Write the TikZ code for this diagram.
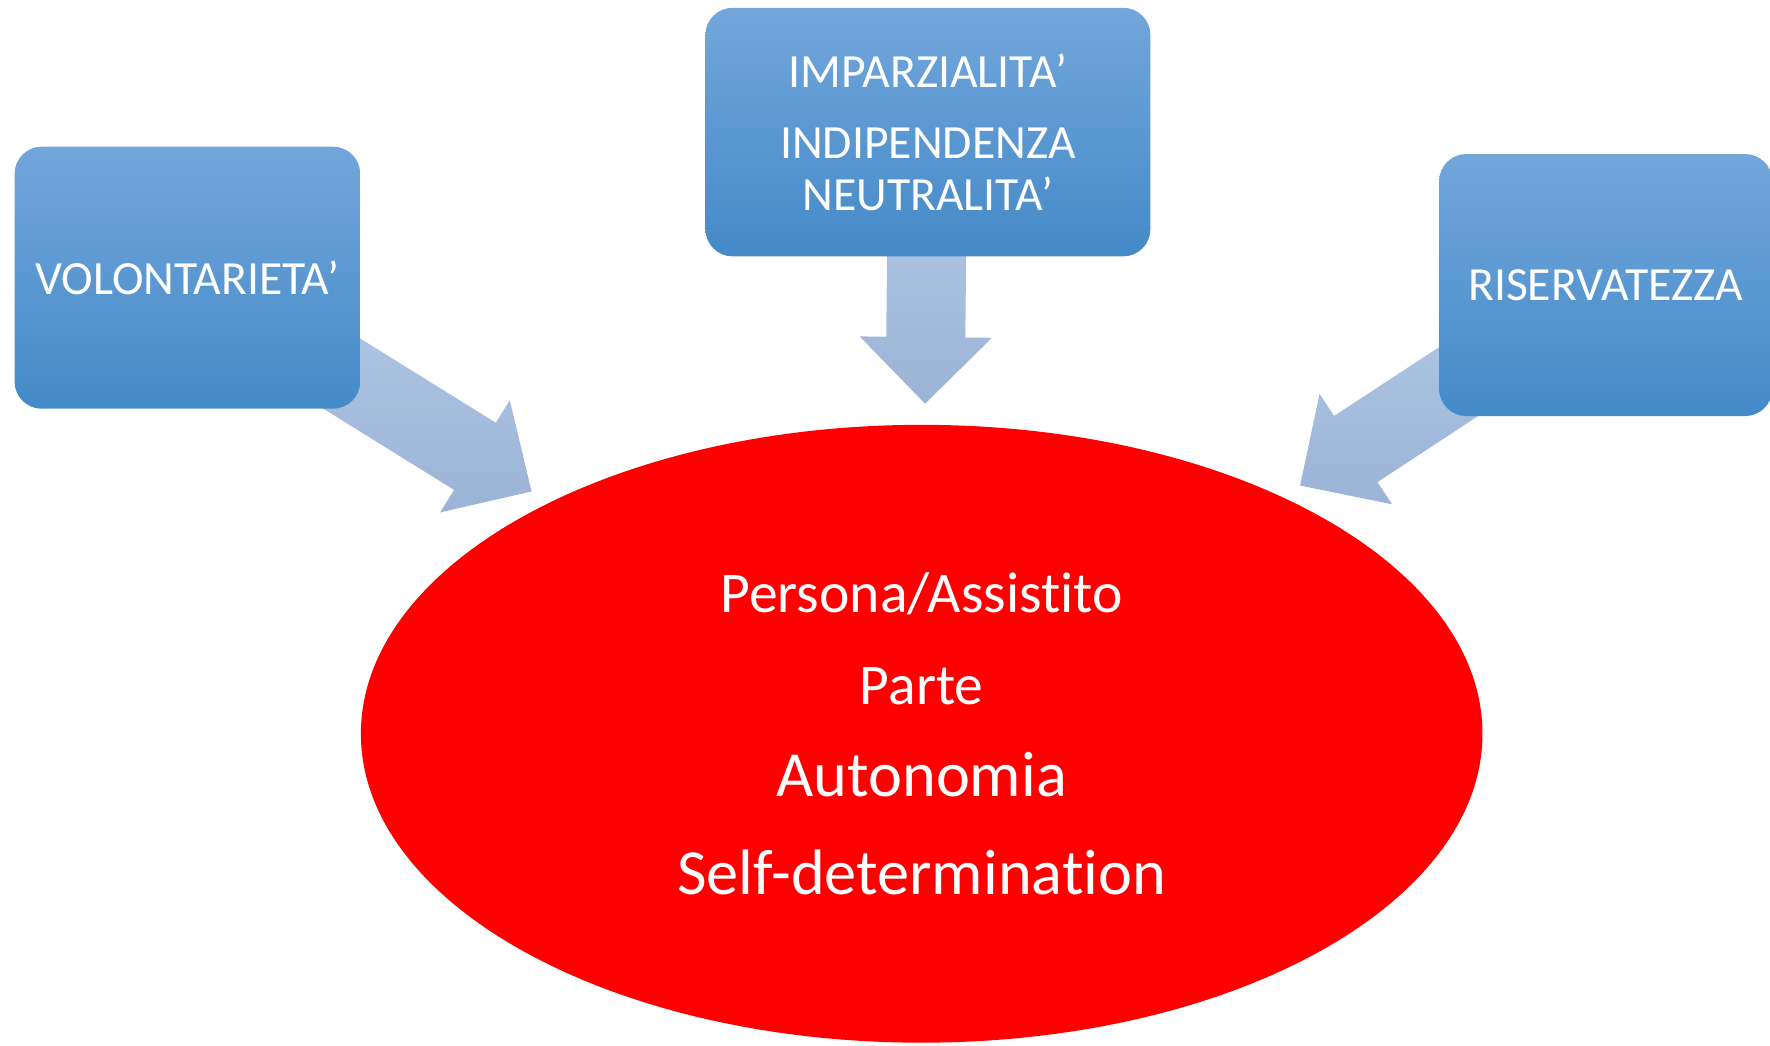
\documentclass[tikz,border=0pt]{standalone}
\usepackage{fontspec}
\setmainfont{Carlito}[Ligatures=NoCommon]
\usetikzlibrary{calc}
\usetikzlibrary{shapes.geometric, backgrounds}

\definecolor{boxtop}{RGB}{114,166,219}
\definecolor{boxbot}{RGB}{68,138,200}
\definecolor{arrowtop}{RGB}{181,204,235}
\definecolor{arrowbot}{RGB}{155,179,213}

\tikzset{
  valuebox/.style={rectangle, rounded corners=0.24cm, top color=boxtop, bottom color=boxbot,
    text=white, align=center, inner sep=0pt, font=\fontsize{12}{13}\selectfont},
  core/.style={ellipse, fill=red, text=white, align=center, inner sep=0pt,
    minimum width=9.93cm, minimum height=5.47cm, font=\fontsize{16.2}{23.2}\selectfont},
  arrowshade/.style={top color=arrowtop, bottom color=arrowbot}
}

% block arrow from the centre of a box towards the ellipse
\newcommand{\blockarrow}[2]{%
  \path (#1.center) -- (#2) coordinate[pos=1] (#1-end);
  \coordinate (#1-tip) at ($(#1-end)!0.18cm!(#1.center)$);
  \coordinate (#1-neck) at ($(#1-tip)!0.59cm!(#1.center)$);
  \shade[arrowshade] ($(#1.center)!0.35cm!90:(#1-tip)$)
    -- ($(#1-neck)!0.35cm!90:(#1-tip)$)
    -- ($(#1-neck)!0.585cm!90:(#1-tip)$)
    -- (#1-tip)
    -- ($(#1-neck)!0.585cm!-90:(#1-tip)$)
    -- ($(#1-neck)!0.35cm!-90:(#1-tip)$)
    -- ($(#1.center)!0.35cm!-90:(#1-tip)$) -- cycle;
}

\begin{document}
\begin{tikzpicture}[x=0.01cm, y=-0.01cm]
        \useasboundingbox (0,0) rectangle (1568,926);

        % Central ellipse
        \node[core] (client) at (816.5,650) {%
            {\fontsize{14.5}{23.2}\selectfont Persona/Assistito}\\
            {\fontsize{14.5}{23.2}\selectfont Parte}\\
            Autonomia\\[1.5pt]
            Self-determination};

        % Principles
        \node[valuebox, minimum width=3.06cm, minimum height=2.32cm] (vol) at (166,246) {VOLONTARIETA’};
        \node[valuebox, minimum width=3.94cm, minimum height=2.20cm] (imp) at (822,117)
            {IMPARZIALITA’\\[5pt] INDIPENDENZA\\ NEUTRALITA’};
        \node[valuebox, minimum width=2.95cm, minimum height=2.32cm] (ris) at (1422.5,252.5) {RISERVATEZZA};

        % Arrows behind the boxes
        \begin{scope}[on background layer]
            \blockarrow{vol}{client}
            \blockarrow{imp}{client}
            \blockarrow{ris}{client}
        \end{scope}
\end{tikzpicture}
\end{document}
